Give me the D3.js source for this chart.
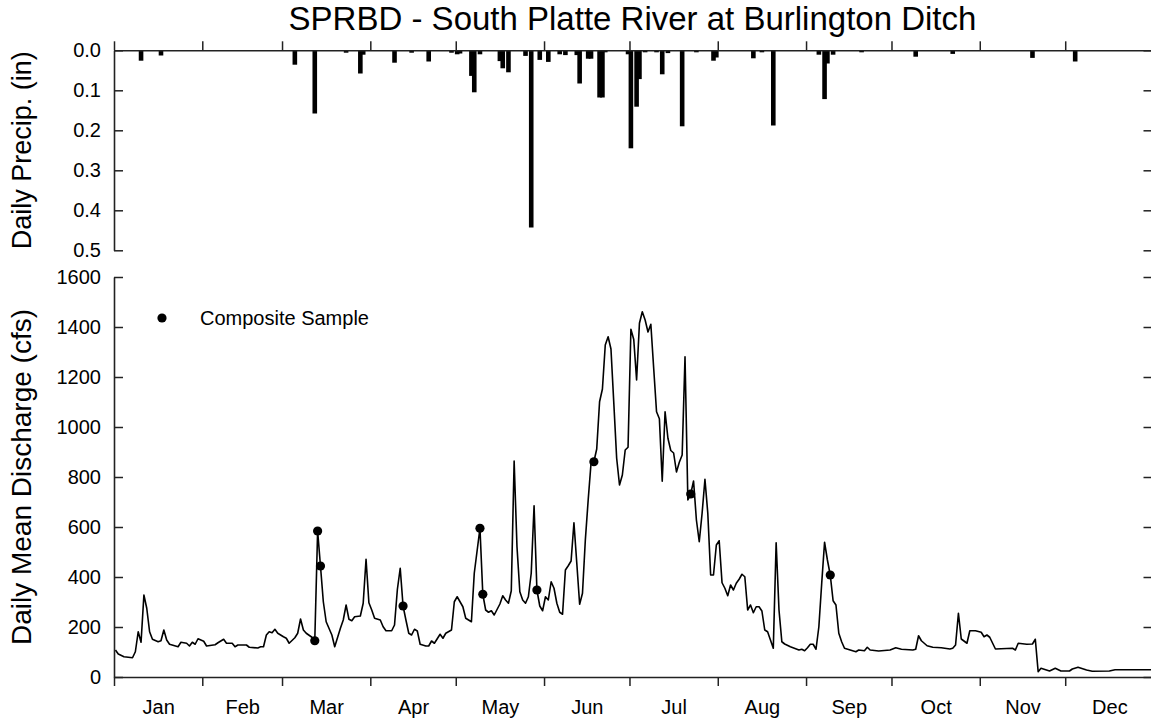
<!DOCTYPE html>
<html>
<head>
<meta charset="utf-8">
<script src="https://cdn.jsdelivr.net/npm/d3@7"></script>
<style>
  html, body { margin: 0; padding: 0; background: #fff; }
  svg { display: block; font-family: "Liberation Sans", Arial, sans-serif; }
</style>
</head>
<body>
<script>
// ---------------- DATA ----------------
const monthLabels = ["Jan","Feb","Mar","Apr","May","Jun","Jul","Aug","Sep","Oct","Nov","Dec"];
const monthStartDays = [0,31,59,90,120,151,181,212,243,273,304,334];
const precipTicks = [0, 0.1, 0.2, 0.3, 0.4, 0.5];
const flowTicks = [0, 200, 400, 600, 800, 1000, 1200, 1400, 1600];

// daily precipitation (day of year, 0 = Jan 1) and depth (in)
const precipDay = [9,16,63,70,81,86,87,98,104,110,118,120,121,125,126,128,135,136,138,144,146,149,152,156,158,162,163,166,167,170,171,172,180,181,183,184,186,190,192,194,199,204,210,211,224,227,231,247,249,250,252,262,281,294,322,337];
const precipIn  = [0.026,0.013,0.036,0.158,0.006,0.058,0.011,0.031,0.006,0.028,0.006,0.010,0.008,0.064,0.105,0.010,0.027,0.045,0.055,0.014,0.443,0.024,0.029,0.010,0.012,0.012,0.083,0.021,0.021,0.118,0.118,0.005,0.010,0.245,0.141,0.072,0.005,0.005,0.060,0.007,0.190,0.005,0.026,0.018,0.020,0.005,0.188,0.011,0.122,0.033,0.011,0.005,0.016,0.009,0.019,0.028];

// daily mean discharge (day of year, cfs)
const flowDay = [0,1,3,6,7,8,9,10,11,12,13,15,16,17,18,19,22,23,25,26,27,28,29,31,32,35,36,38,39,41,42,43,46,47,50,51,52,53,54,55,56,57,59,60,61,63,64,65,66,67,69,70,71,72,73,74,76,77,79,80,81,82,83,84,86,87,88,89,90,91,93,94,95,97,98,99,100,101,102,103,104,105,106,107,109,110,111,112,114,115,116,118,119,120,122,123,125,126,128,129,130,131,132,133,135,136,137,138,139,140,141,142,143,144,145,146,147,148,149,150,151,152,153,154,155,156,157,158,159,160,161,162,163,164,165,166,167,168,169,170,171,172,173,174,175,176,177,178,179,180,181,182,183,184,185,186,187,188,189,190,191,192,193,194,195,196,197,198,199,200,201,202,203,204,205,206,207,208,209,210,211,212,213,214,215,216,217,218,219,220,221,222,223,224,225,226,227,228,229,230,231,232,233,234,235,237,240,241,242,243,244,245,246,247,248,249,250,251,252,253,254,255,256,258,260,261,263,264,265,268,272,274,276,280,281,282,283,285,287,290,293,294,295,296,297,299,300,302,304,305,306,307,309,315,316,317,320,322,323,324,325,328,330,332,335,336,338,341,343,349,351,364];
const flowCfs = [108,92,81,77,101,181,139,328,275,181,151,141,145,188,148,131,121,139,135,124,139,131,153,143,124,129,137,151,135,135,121,128,128,119,116,121,121,168,181,177,191,175,161,155,135,157,175,232,188,175,159,145,584,444,301,221,168,121,195,228,288,231,225,241,244,295,471,297,268,235,228,201,185,185,208,350,435,284,228,175,168,191,184,131,124,124,144,135,171,155,175,188,301,321,281,235,221,415,595,331,268,259,265,248,292,325,308,295,345,864,521,341,308,295,321,415,685,348,284,265,321,308,381,355,295,259,251,428,445,464,617,455,291,335,548,708,855,861,912,1101,1152,1328,1361,1312,1095,875,768,808,908,919,1391,1350,1188,1415,1461,1428,1380,1411,1235,1061,1033,783,1061,955,906,896,820,859,888,1281,708,732,784,628,541,655,791,655,408,408,528,545,377,355,325,368,348,375,391,411,401,268,288,257,281,281,264,188,181,148,115,537,268,141,132,121,108,111,105,117,131,131,111,201,375,539,468,408,305,288,175,141,115,108,101,108,105,119,108,104,108,117,111,108,111,165,145,125,119,117,112,115,128,255,152,135,185,185,179,161,168,159,112,115,108,135,131,132,151,21,35,24,35,24,24,32,39,28,23,24,29,29];

// composite samples (day of year, cfs)
const sampleDay = [70,71,72,101,128,129,148,168,202,251];
const sampleCfs = [145,584,444,284,595,331,348,861,732,408];

// ---------------- CHART ----------------
const W = 1151, H = 725;
const svg = d3.select("body").append("svg").attr("width", W).attr("height", H);

const x = d3.scaleLinear().domain([0, 365]).range([114, 1153.5]);
const yP = d3.scaleLinear().domain([0, 0.5]).range([50.3, 250.3]);
const yQ = d3.scaleLinear().domain([0, 1600]).range([677, 277]);

const axisColor = "#222";
const tickFont = "20px";
function styleAxis(g) {
  g.selectAll("path.domain").attr("stroke", axisColor).attr("stroke-width", 1.6);
  g.selectAll(".tick line").attr("stroke", axisColor).attr("stroke-width", 1.5);
  g.selectAll(".tick text").attr("fill", "#000").style("font-size", tickFont)
    .style("font-family", "'Liberation Sans', Arial, sans-serif");
}

// Title
svg.append("text").attr("x", (x.range()[0] + 1151) / 2).attr("y", 30)
  .attr("text-anchor", "middle").style("font-size", "33px").text("SPRBD - South Platte River at Burlington Ditch");

// ---- Precip panel ----
const precip = precipDay.map((d, i) => ({d, v: precipIn[i]}));
svg.append("g").selectAll("rect").data(precip).join("rect")
  .attr("x", p => x(p.d + 0.5) - 2.3)
  .attr("width", 4.6)
  .attr("y", yP(0))
  .attr("height", p => yP(p.v) - yP(0))
  .attr("fill", "#000");

svg.append("g").attr("transform", `translate(0,${yP(0)})`)
  .call(d3.axisTop(x).tickValues(monthStartDays).tickSize(9).tickSizeOuter(0).tickFormat(""))
  .call(styleAxis);

svg.append("g").attr("transform", `translate(${x(0)},0)`)
  .call(d3.axisLeft(yP).tickValues(precipTicks).tickSize(-9).tickSizeOuter(0).tickPadding(13).tickFormat(d3.format(".1f")))
  .call(styleAxis);

svg.append("g").attr("transform", `translate(${x(365)},0)`)
  .call(d3.axisRight(yP).tickValues(precipTicks).tickSize(-10).tickSizeOuter(0).tickFormat(""))
  .call(styleAxis);

svg.append("text").attr("transform", `translate(31,${(yP(0) + yP(0.5)) / 2}) rotate(-90)`)
  .attr("text-anchor", "middle").style("font-size", "27px").text("Daily Precip. (in)");

// ---- Discharge panel ----
const flow = flowDay.map((d, i) => ({d, v: flowCfs[i]}));
const line = d3.line().x(p => x(p.d + 0.5)).y(p => yQ(p.v));
svg.append("path").datum(flow).attr("d", line)
  .attr("fill", "none").attr("stroke", "#000").attr("stroke-width", 1.6).attr("stroke-linejoin", "round");

const samples = sampleDay.map((d, i) => ({d, v: sampleCfs[i]}));
svg.append("g").selectAll("circle").data(samples).join("circle")
  .attr("cx", p => x(p.d + 0.5)).attr("cy", p => yQ(p.v)).attr("r", 4.6).attr("fill", "#000");

svg.append("g").attr("transform", `translate(0,${yQ(0)})`)
  .call(d3.axisBottom(x).tickValues(monthStartDays).tickSize(9).tickSizeOuter(0).tickFormat(""))
  .call(styleAxis);

// month labels at mid-month
const monthMid = monthStartDays.map((s, i) => (s + (i < 11 ? monthStartDays[i + 1] : 365)) / 2);
svg.append("g").attr("transform", `translate(0,${yQ(0)})`)
  .call(d3.axisBottom(x).tickValues(monthMid).tickSize(0).tickPadding(23).tickFormat((d, i) => monthLabels[i]))
  .call(g => g.select("path.domain").remove())
  .call(styleAxis);

svg.append("g").attr("transform", `translate(${x(0)},0)`)
  .call(d3.axisLeft(yQ).tickValues(flowTicks).tickSize(-9).tickSizeOuter(0).tickPadding(13).tickFormat(d3.format("d")))
  .call(styleAxis);

svg.append("g").attr("transform", `translate(${x(365)},0)`)
  .call(d3.axisRight(yQ).tickValues(flowTicks).tickSize(-10).tickSizeOuter(0).tickFormat(""))
  .call(g => g.select("path.domain").remove())
  .call(styleAxis);

svg.append("text").attr("transform", `translate(31,${(yQ(0) + yQ(1600)) / 2}) rotate(-90)`)
  .attr("text-anchor", "middle").style("font-size", "28px").text("Daily Mean Discharge (cfs)");

// Legend
svg.append("circle").attr("cx", 162).attr("cy", 318).attr("r", 4.6).attr("fill", "#000");
svg.append("text").attr("x", 200).attr("y", 325).style("font-size", "20px").text("Composite Sample");
</script>
</body>
</html>
